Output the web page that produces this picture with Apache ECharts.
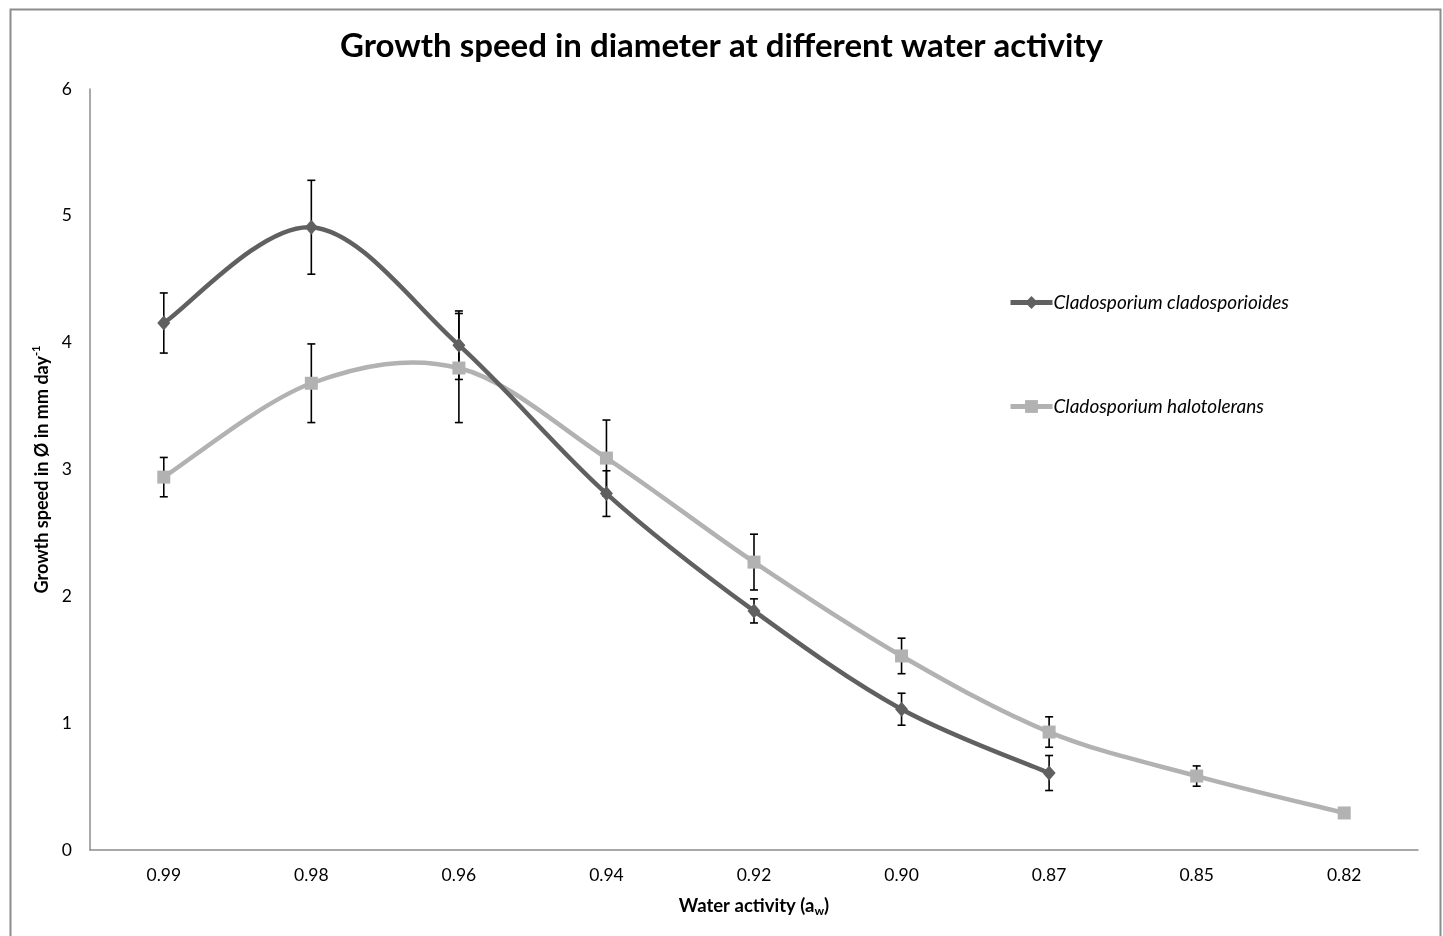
<!DOCTYPE html>
<html>
<head>
<meta charset="utf-8">
<script src="https://cdn.jsdelivr.net/npm/echarts@6/dist/echarts.min.js"></script>
<style>
html,body{margin:0;padding:0;background:#fff;}
#main{width:1443px;height:936px;}
</style>
</head>
<body>
<div id="main"></div>
<script>
const categories = ['0.99','0.98','0.96','0.94','0.92','0.90','0.87','0.85','0.82'];
const cladoValues = [4.155, 4.91, 3.98, 2.81, 1.885, 1.11, 0.607, null, null];
const cladoErrors = [0.237, 0.37, 0.27, 0.18, 0.095, 0.126, 0.138, null, null];
const haloValues = [2.94, 3.68, 3.80, 3.09, 2.27, 1.53, 0.93, 0.583, 0.292];
const haloErrors = [0.155, 0.31, 0.43, 0.30, 0.22, 0.14, 0.12, 0.08, 0];
const yTicks = [0, 1, 2, 3, 4, 5, 6];

const FONT = 'Lato';
const DARK = '#606060';
const LIGHT = '#b2b2b2';

function errData(vals, errs) {
  const out = [];
  vals.forEach((v, i) => {
    if (v != null && errs[i] != null && errs[i] > 0) out.push([i, v - errs[i], v + errs[i]]);
  });
  return out;
}

function errRender(params, api) {
  const x = api.value(0);
  const lo = api.coord([x, api.value(1)]);
  const hi = api.coord([x, api.value(2)]);
  const w = 4;
  const st = { stroke: '#000', lineWidth: 1.6 };
  return {
    type: 'group',
    children: [
      { type: 'line', shape: { x1: lo[0], y1: lo[1], x2: hi[0], y2: hi[1] }, style: st },
      { type: 'line', shape: { x1: lo[0] - w, y1: lo[1], x2: lo[0] + w, y2: lo[1] }, style: st },
      { type: 'line', shape: { x1: hi[0] - w, y1: hi[1], x2: hi[0] + w, y2: hi[1] }, style: st }
    ]
  };
}

// Segment data: one item per segment i -> i+1 (spreadsheet-style Catmull-Rom smoothing)
function segData(vals) {
  const out = [];
  for (let i = 0; i + 1 < vals.length; i++) {
    if (vals[i] != null && vals[i + 1] != null) out.push([i, vals[i]]);
  }
  return out;
}

function curveRender(vals, color) {
  return function (params, api) {
    const i = api.value(0);
    const n = vals.length;
    const valid = k => k >= 0 && k < n && vals[k] != null;
    const p1 = api.coord([i, vals[i]]);
    const p2 = api.coord([i + 1, vals[i + 1]]);
    const p0 = valid(i - 1) ? api.coord([i - 1, vals[i - 1]]) : p1;
    const p3 = valid(i + 2) ? api.coord([i + 2, vals[i + 2]]) : p2;
    const t = 1 / 6;
    const c1 = [p1[0] + (p2[0] - p0[0]) * t, p1[1] + (p2[1] - p0[1]) * t];
    const c2 = [p2[0] - (p3[0] - p1[0]) * t, p2[1] - (p3[1] - p1[1]) * t];
    return {
      type: 'bezierCurve',
      shape: { x1: p1[0], y1: p1[1], x2: p2[0], y2: p2[1], cpx1: c1[0], cpy1: c1[1], cpx2: c2[0], cpy2: c2[1] },
      style: { stroke: color, lineWidth: 4.5, fill: 'none', lineCap: 'round' }
    };
  };
}

const chart = echarts.init(document.getElementById('main'), null, { renderer: 'canvas' });
chart.setOption({
  backgroundColor: '#fff',
  animation: false,
  textStyle: { fontFamily: FONT },
  graphic: [{
    type: 'rect', left: 8, top: 7,
    shape: { x: 0, y: 0, width: 1430, height: 960 },
    style: { fill: 'none', stroke: '#8c8c8c', lineWidth: 2 },
    silent: true, z: -1
  }],
  title: {
    text: 'Growth speed in diameter at different water activity',
    left: 'center', top: 25,
    textStyle: { fontFamily: FONT, fontWeight: 'bold', fontSize: 33, color: '#000' }
  },
  legend: {
    orient: 'vertical', left: 1003, top: 288,
    itemWidth: 42, itemHeight: 16, itemGap: 85,
    data: [
      { name: 'Cladosporium cladosporioides', lineStyle: { width: 5, color: DARK, opacity: 1 }, itemStyle: { color: DARK } },
      { name: 'Cladosporium halotolerans', lineStyle: { width: 5, color: LIGHT, opacity: 1 }, itemStyle: { color: LIGHT } }
    ],
    textStyle: { fontFamily: FONT, fontStyle: 'italic', fontSize: 19, color: '#000', padding: [0,0,0,-4] }
  },
  grid: { left: 90, right: 25, top: 89, bottom: 86, containLabel: false },
  xAxis: {
    type: 'category',
    data: categories,
    boundaryGap: true,
    axisLine: { lineStyle: { color: '#8c8c8c', width: 1.5 } },
    axisTick: { show: false },
    axisLabel: { color: '#000', fontSize: 17.5, fontFamily: FONT, margin: 16 },
    name: 'Water activity (a{sub|w})',
    nameLocation: 'middle', nameGap: 45,
    nameTextStyle: {
      fontFamily: FONT, fontWeight: 'bold', fontSize: 18.5, color: '#000',
      rich: { sub: { fontFamily: FONT, fontWeight: 'bold', fontSize: 12, color: '#000', verticalAlign: 'bottom', padding: [10, 0, 0, 0] } }
    }
  },
  yAxis: {
    type: 'value', min: 0, max: 6, interval: 1,
    axisLine: { show: true, lineStyle: { color: '#8c8c8c', width: 1.5 } },
    axisTick: { show: false },
    splitLine: { show: false },
    axisLabel: { color: '#000', fontSize: 17.5, fontFamily: FONT, margin: 18,
      formatter: v => yTicks.includes(v) ? String(v) : '' },
    name: 'Growth speed in Ø in mm day{sup|-1}',
    nameLocation: 'middle', nameGap: 36, nameRotate: 90,
    nameTextStyle: {
      fontFamily: FONT, fontWeight: 'bold', fontSize: 18, color: '#000',
      rich: { sup: { fontFamily: FONT, fontWeight: 'bold', fontSize: 11, color: '#000', verticalAlign: 'top', padding: [0, 0, 10, 0] } }
    }
  },
  series: [
    {
      name: 'err-clado', type: 'custom',
      renderItem: errRender, data: errData(cladoValues, cladoErrors), z: 1, silent: true
    },
    {
      name: 'err-halo', type: 'custom',
      renderItem: errRender, data: errData(haloValues, haloErrors), z: 1, silent: true
    },
    {
      name: 'curve-halo', type: 'custom',
      renderItem: curveRender(haloValues, LIGHT), data: segData(haloValues), z: 2, silent: true
    },
    {
      name: 'Cladosporium halotolerans', type: 'line', data: haloValues,
      smooth: false, symbol: 'rect', symbolSize: 13, showAllSymbol: true,
      lineStyle: { color: LIGHT, width: 4.5, opacity: 0 },
      itemStyle: { color: LIGHT }, z: 3
    },
    {
      name: 'curve-clado', type: 'custom',
      renderItem: curveRender(cladoValues, DARK), data: segData(cladoValues), z: 4, silent: true
    },
    {
      name: 'Cladosporium cladosporioides', type: 'line', data: cladoValues,
      smooth: false, symbol: 'diamond', symbolSize: [13, 15], showAllSymbol: true,
      lineStyle: { color: DARK, width: 4.5, opacity: 0 },
      itemStyle: { color: DARK }, z: 5
    }
  ]
});
</script>
</body>
</html>
